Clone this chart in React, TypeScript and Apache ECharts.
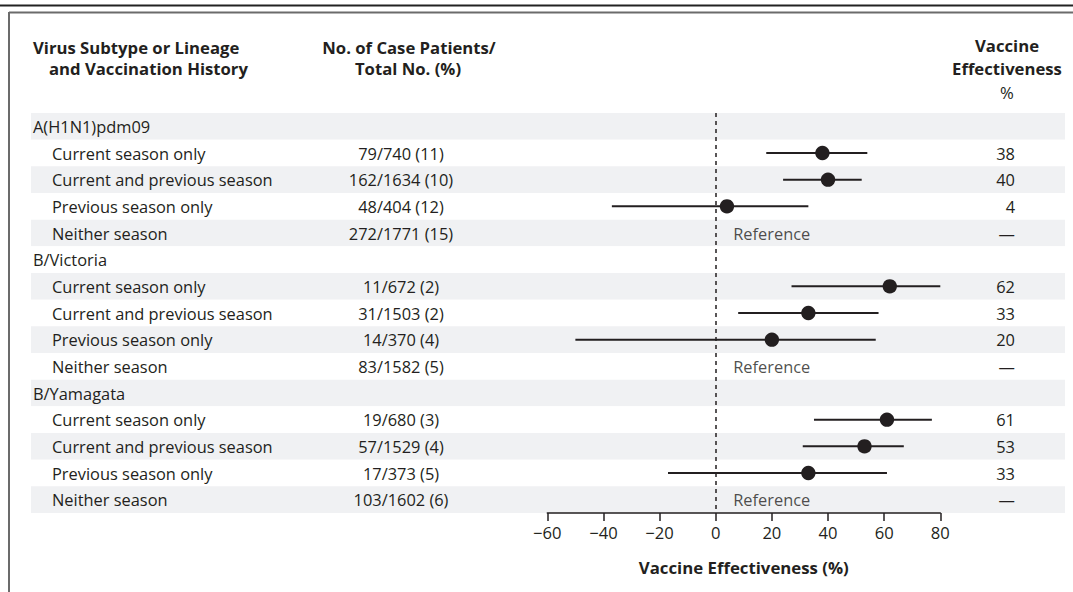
import React, { useEffect, useRef } from "react";
import * as echarts from "echarts";

const groups = ["A(H1N1)pdm09", "B/Victoria", "B/Yamagata"];
const histories = ["Current season only", "Current and previous season", "Previous season only", "Neither season"];
const caseCounts = [
  ["79/740 (11)", "162/1634 (10)", "48/404 (12)", "272/1771 (15)"],
  ["11/672 (2)", "31/1503 (2)", "14/370 (4)", "83/1582 (5)"],
  ["19/680 (3)", "57/1529 (4)", "17/373 (5)", "103/1602 (6)"],
];
const veEstimate = [
  [38, 40, 4, null],
  [62, 33, 20, null],
  [61, 53, 33, null],
];
const ciLow = [
  [18, 24, -37, null],
  [27, 8, -50, null],
  [35, 31, -17, null],
];
const ciHigh = [
  [54, 52, 33, null],
  [80, 58, 57, null],
  [77, 67, 61, null],
];
const xMin = -60;
const xMax = 80;
const xInterval = 20;

const FONT = "'Open Sans', sans-serif";
const INK = "#231f20";

export default function App() {
  const ref = useRef<HTMLDivElement>(null);
  useEffect(() => {
    if (!ref.current) return;
    const chart = echarts.init(ref.current, null, { renderer: "svg" });

    const rowLabels: string[] = [];
    const rowIsGroup: boolean[] = [];
    const rowCases: string[] = [];
    const rowVE: string[] = [];
    const ciData: any[] = [];
    const refData: any[] = [];
    groups.forEach((g, gi) => {
      rowLabels.push(g);
      rowIsGroup.push(true);
      rowCases.push("");
      rowVE.push("");
      histories.forEach((h, hi) => {
        const idx = rowLabels.length;
        rowLabels.push(h);
        rowIsGroup.push(false);
        rowCases.push(caseCounts[gi][hi]);
        const est = veEstimate[gi][hi];
        if (est === null) {
          rowVE.push("\u2014");
          refData.push([0, idx]);
        } else {
          rowVE.push(String(est));
          ciData.push([idx, ciLow[gi][hi], ciHigh[gi][hi], est]);
        }
      });
    });
    const rowIdx = rowLabels.map((_, i) => String(i));

    const textBase = { fontFamily: FONT, color: INK, fontSize: 16.4 };
    const headBase = { fontFamily: FONT, fill: INK, fontSize: 16.7, fontWeight: "bold" };

    const option: any = {
      animation: false,
      textStyle: { fontFamily: FONT },
      grid: [
        { left: 547.3, right: 1073 - 940.3, top: 113, bottom: 79 },
        { left: 31, right: 8, top: 113, bottom: 79 },
      ],
      xAxis: [
        {
          gridIndex: 0,
          type: "value",
          min: xMin,
          max: xMax,
          interval: xInterval,
          axisLine: { show: true, lineStyle: { color: INK, width: 1.5 } },
          axisTick: { show: true, length: 8, lineStyle: { color: INK, width: 1.5 } },
          splitLine: { show: false },
          axisLabel: {
            ...textBase,
            fontSize: 16.6,
            margin: 11,
            formatter: (v: number) => (v < 0 ? "\u2212" + Math.abs(v) : String(v)),
          },
          name: "Vaccine Effectiveness (%)",
          nameLocation: "middle",
          nameGap: 46,
          nameTextStyle: { ...textBase, fontSize: 16.8, fontWeight: "bold" },
        },
        { gridIndex: 1, type: "value", show: false, min: 0, max: 1 },
      ],
      yAxis: [
        {
          gridIndex: 0,
          type: "category",
          inverse: true,
          data: rowIdx,
          show: false,
        },
        {
          gridIndex: 1,
          type: "category",
          inverse: true,
          data: rowLabels,
          position: "left",
          offset: -2,
          axisLine: { show: false },
          axisTick: { show: false },
          splitLine: { show: false },
          splitArea: { show: true, areaStyle: { color: ["#f0f1f3", "#ffffff"] } },
          axisLabel: {
            margin: 0,
            align: "left",
            formatter: (v: string, i: number) => (rowIsGroup[i] ? "{g|" + v + "}" : "{s|" + v + "}"),
            rich: {
              g: { ...textBase },
              s: { ...textBase, padding: [0, 0, 0, 19] },
            },
          },
        },
        {
          gridIndex: 1,
          type: "category",
          inverse: true,
          data: rowCases,
          position: "left",
          offset: -370,
          axisLine: { show: false },
          axisTick: { show: false },
          splitLine: { show: false },
          axisLabel: { ...textBase, margin: 0, align: "center" },
        },
        {
          gridIndex: 1,
          type: "category",
          inverse: true,
          data: rowVE,
          position: "right",
          offset: -50,
          axisLine: { show: false },
          axisTick: { show: false },
          splitLine: { show: false },
          axisLabel: { ...textBase, margin: 0, align: "right" },
        },
      ],
      series: [
        {
          type: "custom",
          xAxisIndex: 0,
          yAxisIndex: 0,
          z: 5,
          data: ciData,
          dimensions: [
            { name: "row", type: "ordinal" },
            { name: "lo", type: "number" },
            { name: "hi", type: "number" },
            { name: "est", type: "number" },
          ],
          encode: { y: 0, x: [1, 2, 3] },
          renderItem: (params: any, api: any) => {
            const y = api.value(0);
            const p1 = api.coord([api.value(1), y]);
            const p2 = api.coord([api.value(2), y]);
            const pc = api.coord([api.value(3), y]);
            return {
              type: "group",
              children: [
                {
                  type: "line",
                  shape: { x1: p1[0], y1: p1[1], x2: p2[0], y2: p2[1] },
                  style: { stroke: INK, lineWidth: 2 },
                },
                {
                  type: "circle",
                  shape: { cx: pc[0], cy: pc[1], r: 7.2 },
                  style: { fill: INK },
                },
              ],
            };
          },
        },
        {
          type: "scatter",
          xAxisIndex: 0,
          yAxisIndex: 0,
          data: refData,
          symbolSize: 1,
          itemStyle: { color: "rgba(0,0,0,0)" },
          label: {
            show: true,
            position: "right",
            distance: 17,
            formatter: "Reference",
            ...textBase,
          },
          markLine: {
            silent: true,
            symbol: "none",
            label: { show: false },
            lineStyle: { color: INK, width: 1.5, type: [4, 4] },
            data: [{ xAxis: 0 }],
          },
        },
      ],
      graphic: [
        { type: "line", shape: { x1: 0, y1: 5.5, x2: 1073, y2: 5.5 }, style: { stroke: "#222", lineWidth: 2 } },
        { type: "line", shape: { x1: 9, y1: 12.5, x2: 1073, y2: 12.5 }, style: { stroke: "#6b6b6b", lineWidth: 2 } },
        { type: "line", shape: { x1: 9, y1: 12, x2: 9, y2: 592 }, style: { stroke: "#6b6b6b", lineWidth: 2 } },
        { type: "text", x: 33, y: 47, style: { text: "Virus Subtype or Lineage", ...headBase, textAlign: "left", textVerticalAlign: "middle" } },
        { type: "text", x: 49, y: 68, style: { text: "and Vaccination History", ...headBase, textAlign: "left", textVerticalAlign: "middle" } },
        { type: "text", x: 409, y: 47, style: { text: "No. of Case Patients/", ...headBase, textAlign: "center", textVerticalAlign: "middle" } },
        { type: "text", x: 408, y: 68, style: { text: "Total No. (%)", ...headBase, textAlign: "center", textVerticalAlign: "middle" } },
        { type: "text", x: 1007, y: 45, style: { text: "Vaccine", ...headBase, textAlign: "center", textVerticalAlign: "middle" } },
        { type: "text", x: 1007, y: 68, style: { text: "Effectiveness", ...headBase, textAlign: "center", textVerticalAlign: "middle" } },
        { type: "text", x: 1007, y: 92, style: { text: "%", ...headBase, fontWeight: "normal", textAlign: "center", textVerticalAlign: "middle" } },
      ],
    };
    chart.setOption(option);
    return () => chart.dispose();
  }, []);
  return (
    <div
      ref={ref}
      style={{ position: "absolute", left: 0, top: 0, width: 1073, height: 592, background: "#fff" }}
    />
  );
}
